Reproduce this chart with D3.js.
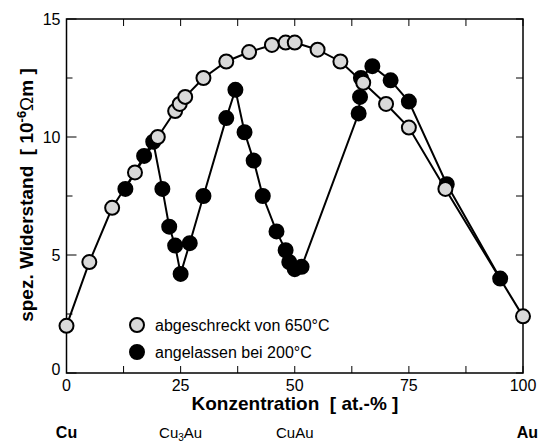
<!DOCTYPE html>
<html><head><meta charset="utf-8">
<script src="https://cdn.jsdelivr.net/npm/d3@7/dist/d3.min.js"></script>
<style>body{margin:0;background:#fff}svg{display:block;font-family:"Liberation Sans",Arial,sans-serif}text{white-space:pre}</style>
</head><body><svg id="c" width="540" height="445"></svg>
<script>
const seriesNames = ["abgeschreckt von 650°C", "angelassen bei 200°C"];
const quenchedX = [0,5,10,15,20,23.8,24.8,26,30,35,40,45,48,50,55,60,65,70,75,83,100];
const quenchedY = [2.0,4.7,7.0,8.5,10.0,11.1,11.4,11.7,12.5,13.2,13.6,13.9,14.0,14.0,13.7,13.2,12.3,11.4,10.4,7.8,2.4];
const annealedX = [12.9,17,19,21,22.5,23.8,25,27,30,35,37,39,41,43,46,48,48.8,50,51.5,64,64.3,64.5,67,71,75,83.3,95];
const annealedY = [7.8,9.2,9.8,7.8,6.2,5.4,4.2,5.5,7.5,10.8,12.0,10.2,9.0,7.5,6.0,5.2,4.7,4.4,4.5,11.0,11.7,12.5,13.0,12.4,11.5,8.0,4.0];
const xTicks = [0,25,50,75,100];
const yTicks = [0,5,10,15];
const phaseLabels = [{x:0,t:"Cu",bold:true},{x:25,t:"Cu3Au",bold:false},{x:50,t:"CuAu",bold:false},{x:100,t:"Au",bold:true}];

const svg = d3.select("#c");
const L=66.5, R=523, T=19, B=373;
const x = d3.scaleLinear().domain([0,100]).range([L,R]);
const y = d3.scaleLinear().domain([0,15]).range([B,T]);

svg.append("rect").attr("x",L).attr("y",T).attr("width",R-L).attr("height",B-T)
  .attr("fill","none").attr("stroke","#000").attr("stroke-width",1.5);

const minorX = d3.range(0,100.1,12.5), minorY = d3.range(0,15.1,2.5);
const g = svg.append("g").attr("stroke","#000").attr("stroke-width",1);
minorX.forEach(v=>{
  g.append("line").attr("x1",x(v)).attr("x2",x(v)).attr("y1",B).attr("y2",B-7);
  g.append("line").attr("x1",x(v)).attr("x2",x(v)).attr("y1",T).attr("y2",T+7);
});
minorY.forEach(v=>{
  const len = (v%5===0)?10:6;
  g.append("line").attr("x1",L).attr("x2",L+len).attr("y1",y(v)).attr("y2",y(v));
  g.append("line").attr("x1",R).attr("x2",R-7).attr("y1",y(v)).attr("y2",y(v));
});

xTicks.forEach(v=>{
  svg.append("text").attr("x",x(v)).attr("y",B+18).attr("text-anchor","middle")
    .attr("font-size",16).text(v);
});
yTicks.forEach(v=>{
  svg.append("text").attr("x",L-6).attr("y",y(v)+6 - (v===0?4:0)).attr("text-anchor","end")
    .attr("font-size",16).text(v);
});

svg.append("text").attr("x",295).attr("y",B+37).attr("text-anchor","middle")
  .attr("font-size",19).attr("font-weight","bold").text("Konzentration  [ at.-% ]");
const yl = svg.append("text").attr("transform",`translate(33,195) rotate(-90)`)
  .attr("text-anchor","middle").attr("font-size",19).attr("font-weight","bold");
yl.append("tspan").text("spez. Widerstand  [ 10");
yl.append("tspan").attr("font-size",13).attr("dy",-7).text("-6");
yl.append("tspan").attr("dy",7).attr("font-weight","normal").text("Ω");
yl.append("tspan").text("m ]");

phaseLabels.forEach(p=>{
  const t = svg.append("text").attr("y",438).attr("font-size",p.bold?16:15)
    .attr("font-weight",p.bold?"bold":"normal");
  if(p.x===100){ t.attr("x",538).attr("text-anchor","end"); }
  else t.attr("x",x(p.x)).attr("text-anchor","middle");
  if(p.t==="Cu3Au"){
    t.append("tspan").text("Cu");
    t.append("tspan").attr("font-size",10).attr("dy",3).text("3");
    t.append("tspan").attr("dy",-3).text("Au");
  } else t.text(p.t);
});

const line = d3.line().x(d=>x(d[0])).y(d=>y(d[1]));
const annealed = annealedX.map((v,i)=>[v,annealedY[i]]);
const quenched = quenchedX.map((v,i)=>[v,quenchedY[i]]);

function drawSeries(data, fill){
  svg.append("path").datum(data).attr("d",line).attr("fill","none")
    .attr("stroke","#000").attr("stroke-width",2);
  svg.append("g").selectAll("circle").data(data).join("circle")
    .attr("cx",d=>x(d[0])).attr("cy",d=>y(d[1])).attr("r",7)
    .attr("fill",fill).attr("stroke","#000").attr("stroke-width",2);
}
drawSeries(annealed,"#000");
drawSeries(quenched,"#d9d9d9");

const leg = [{n:seriesNames[0],f:"#d9d9d9",y:325},{n:seriesNames[1],f:"#000",y:352}];
leg.forEach(l=>{
  svg.append("circle").attr("cx",137).attr("cy",l.y).attr("r",7).attr("fill",l.f)
    .attr("stroke","#000").attr("stroke-width",2);
  svg.append("text").attr("x",155).attr("y",l.y+6).attr("font-size",16).text(l.n);
});
</script></body></html>
